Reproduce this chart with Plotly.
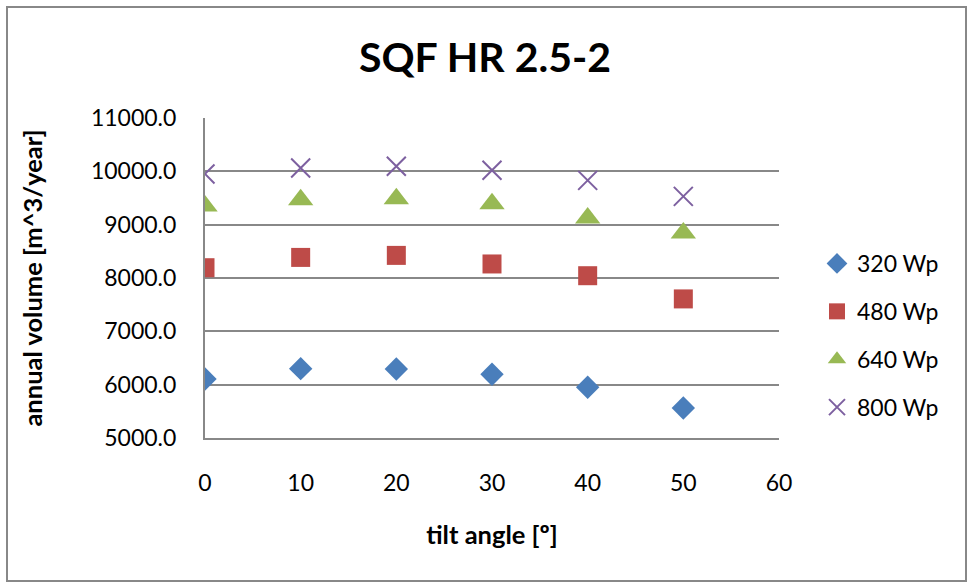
import plotly.graph_objects as go

tilt = [0, 10, 20, 30, 40, 50]
series_names = ["320 Wp", "480 Wp", "640 Wp", "800 Wp"]
v320 = [6105, 6300, 6294, 6195, 5951, 5563]
v480 = [8193, 8386, 8424, 8263, 8043, 7608]
v640 = [9351, 9469, 9488, 9394, 9126, 8844]
v800 = [9951, 10064, 10094, 10019, 9831, 9531]
y_ticks = [5000, 6000, 7000, 8000, 9000, 10000, 11000]
x_ticks = [0, 10, 20, 30, 40, 50, 60]

FONT = "Lato"
colors = ["#4A7EBB", "#BE4B48", "#98B954", "#7D60A0"]
symbols = ["diamond", "square", "triangle-up", "x-thin-open"]
sizes = [18, 19, 22, 19]
values = [v320, v480, v640, v800]

fig = go.Figure()
for i, (name, vals) in enumerate(zip(series_names, values)):
    marker = dict(color=colors[i], symbol=symbols[i], size=sizes[i])
    if symbols[i] == "x-thin-open":
        marker["line"] = dict(color=colors[i], width=2)
    fig.add_trace(go.Scatter(x=tilt, y=vals, mode="markers", name=name,
                             marker=marker, legendgroup=name))

W, H = 969, 583
ml, mr, mt, mb = 205, 190, 118, 145
pw, ph = W - ml - mr, H - mt - mb

fig.update_layout(
    width=W, height=H,
    margin=dict(l=ml, r=mr, t=mt, b=mb),
    paper_bgcolor="white", plot_bgcolor="white",
    font=dict(family=FONT, size=23, color="black"),
    title=dict(text="<b>SQF HR 2.5-2</b>", x=485 / W, xanchor="center",
               y=1 - 58 / H, yanchor="middle", font=dict(size=41, family=FONT)),
    showlegend=True,
    legend=dict(x=(817 - ml) / pw, xanchor="left", y=(438 - 242) / ph, yanchor="top",
                tracegroupgap=15, font=dict(size=23, family=FONT),
                itemsizing="trace", bgcolor="rgba(0,0,0,0)"),
    xaxis=dict(range=[0, 60], tickvals=x_ticks, showgrid=False, zeroline=False,
               showline=True, linecolor="#888888", linewidth=2, ticks="",
               ticklabelstandoff=23, tickfont=dict(size=23),
               title=dict(text="<b>tilt angle [º]</b>", standoff=32,
                          font=dict(size=25.5, family=FONT))),
    yaxis=dict(range=[5000, 11000], tickvals=y_ticks, tickformat=".1f",
               showgrid=True, gridcolor="#888888", gridwidth=2, zeroline=False,
               showline=True, linecolor="#888888", linewidth=2, ticks="",
               ticklabelstandoff=22, tickfont=dict(size=23),
               title=dict(text="<b>annual volume [m^3/year]</b>", standoff=41,
                          font=dict(size=25.5, family=FONT))),
    shapes=[dict(type="rect", xref="paper", yref="paper",
                 x0=(7 - ml) / pw, x1=(966 - ml) / pw,
                 y0=(H - mb - 581) / ph, y1=(H - mb - 7) / ph,
                 line=dict(color="#888888", width=2), fillcolor="rgba(0,0,0,0)",
                 layer="below")],
)

fig.write_html("out.html")
